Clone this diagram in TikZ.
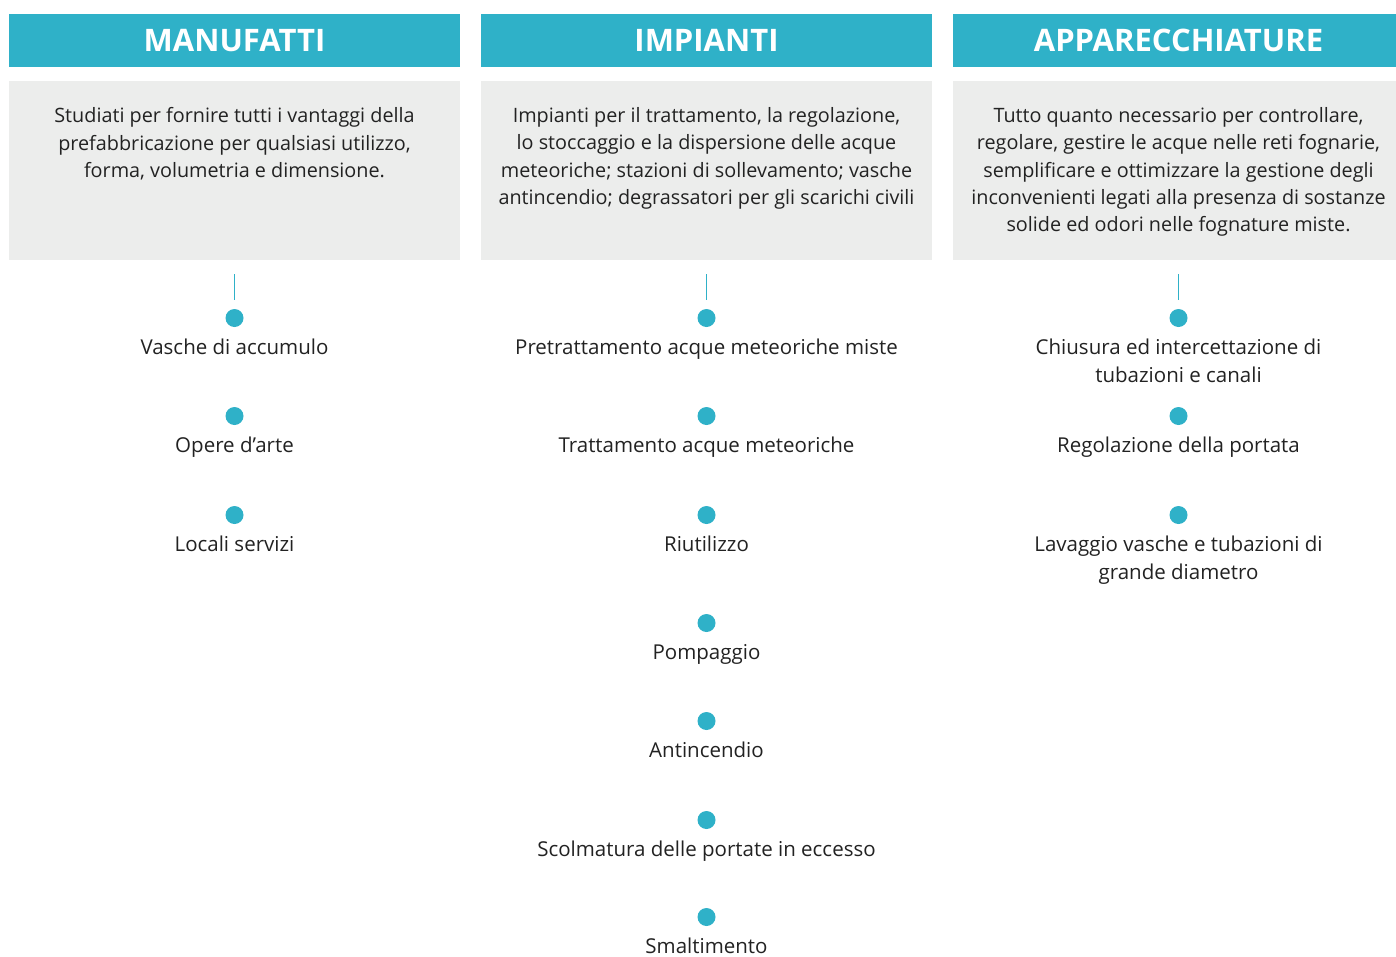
\documentclass[tikz,border=0pt]{standalone}
\usepackage{fontspec}
\setmainfont{Open Sans}
\usetikzlibrary{positioning}
\definecolor{tealmain}{HTML}{2FB1C8}
\definecolor{boxgray}{HTML}{ECEDEC}
\definecolor{textdark}{HTML}{222222}

\begin{document}
\begin{tikzpicture}[x=1pt,y=-1pt,
    header/.style={fill=tealmain, text=white, minimum width=451pt, minimum height=53pt,
      inner sep=0pt, font=\fontsize{31}{36}\selectfont\bfseries},
    descbox/.style={fill=boxgray, minimum width=451pt, minimum height=179pt, inner sep=0pt},
    desctext/.style={align=center, inner sep=0pt, text=textdark,
      font=\fontsize{19.8}{27.2}\selectfont},
    bullet/.style={circle, fill=tealmain, minimum size=18pt, inner sep=0pt},
    entry/.style={align=center, inner sep=0pt, text=textdark,
      font=\fontsize{20.5}{27.5}\selectfont, below=12pt of #1},
    tick/.style={draw=tealmain, line width=1.3pt}]
    \useasboundingbox (0,0) rectangle (1396,956);

    % column headers
    \node[header] (hm) at (234.5,40.5) {MANUFATTI};
    \node[header] (hi) at (706.5,40.5) {IMPIANTI};
    \node[header] (ha) at (1178.5,40.5) {APPARECCHIATURE};

    % grey boxes with descriptions
    \node[descbox] (bm) at (234.5,170.5) {};
    \node[descbox] (bi) at (706.5,170.5) {};
    \node[descbox] (ba) at (1178.5,170.5) {};
    \node[desctext, anchor=north] (dm) at (234.5,107.5) {Studiati per fornire tutti i vantaggi della\\
      prefabbricazione per qualsiasi utilizzo,\\ forma, volumetria e dimensione.};
    \node[desctext, anchor=north] (di) at (706.5,107.5) {Impianti per il trattamento, la regolazione,\\
      lo stoccaggio e la dispersione delle acque\\ meteoriche; stazioni di sollevamento; vasche\\
      antincendio; degrassatori per gli scarichi civili};
    \node[desctext, anchor=north] (da) at (1178.5,107.5) {Tutto quanto necessario per controllare,\\
      regolare, gestire le acque nelle reti fognarie,\\ semplificare e ottimizzare la gestione degli\\
      inconvenienti legati alla presenza di sostanze\\ solide ed odori nelle fognature miste.};

    % short ticks under the boxes
    \foreach \x/\n in {234.5/m, 706.5/i, 1178.5/a} {
      \coordinate (t\n a) at (\x,274);
      \coordinate (t\n b) at (\x,300);
      \draw[tick] (t\n a) -- (t\n b);
    }

    % MANUFATTI
    \foreach \y/\n/\t in {318/1/Vasche di accumulo, 416/2/Opere d’arte, 515/3/Locali servizi} {
      \node[bullet] (m\n) at (234.5,\y) {};
      \node[entry=m\n] (lm\n) {\t};
    }

    % IMPIANTI
    \foreach \y/\n/\t in {318/1/Pretrattamento acque meteoriche miste, 416/2/Trattamento acque meteoriche,
      515/3/Riutilizzo, 623/4/Pompaggio, 721/5/Antincendio,
      820/6/Scolmatura delle portate in eccesso, 917/7/Smaltimento} {
      \node[bullet] (i\n) at (706.5,\y) {};
      \node[entry=i\n] (li\n) {\t};
    }

    % APPARECCHIATURE
    \foreach \y/\n/\t in {318/1/{Chiusura ed intercettazione di\\ tubazioni e canali},
      416/2/Regolazione della portata,
      515/3/{Lavaggio vasche e tubazioni di\\ grande diametro}} {
      \node[bullet] (a\n) at (1178.5,\y) {};
      \node[entry=a\n] (la\n) {\t};
    }
\end{tikzpicture}
\end{document}
